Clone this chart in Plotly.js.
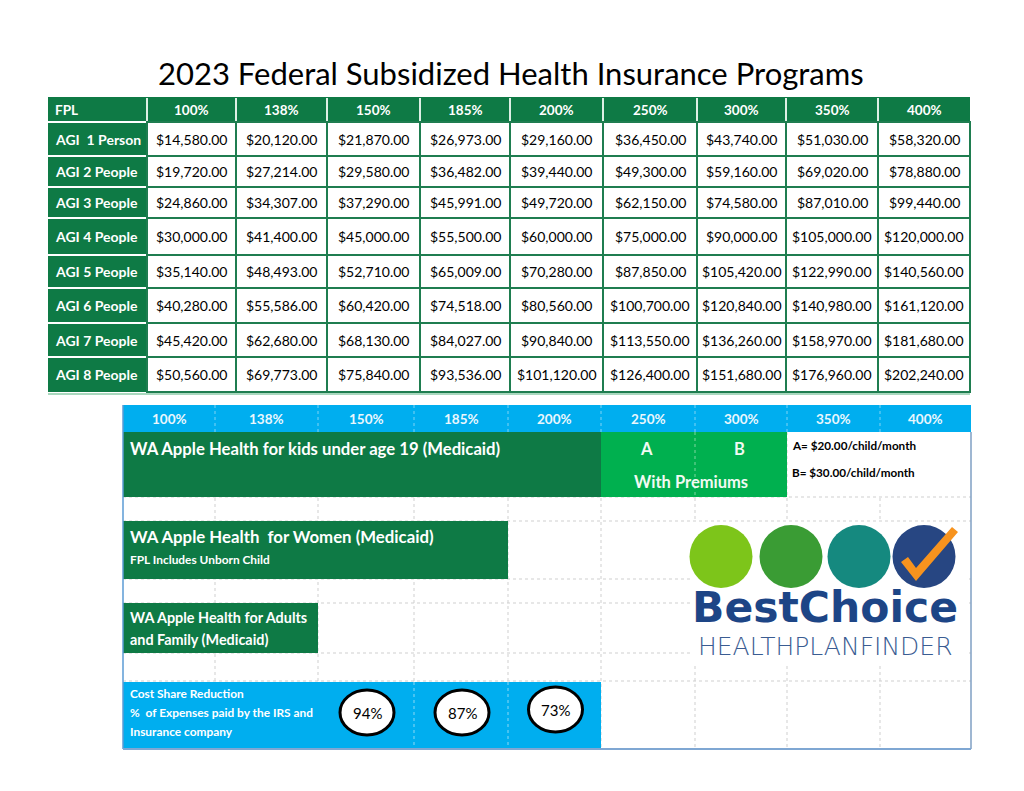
<!DOCTYPE html>
<html>
<head>
<meta charset="utf-8">
<script src="https://cdn.plot.ly/plotly-3.0.1.min.js"></script>
<style>
  html, body { margin: 0; padding: 0; background: #fff; }
  #chart { width: 1024px; height: 791px; }
</style>
</head>
<body>
<div id="chart"></div>
<script>
// ---- data ----
const chartTitle = '2023 Federal Subsidized Health Insurance Programs';
const fplLevels = ['100%', '138%', '150%', '185%', '200%', '250%', '300%', '350%', '400%'];
const householdLabels = ['AGI  1 Person', 'AGI 2 People', 'AGI 3 People', 'AGI 4 People',
                         'AGI 5 People', 'AGI 6 People', 'AGI 7 People', 'AGI 8 People'];
const agi1 = [14580, 20120, 21870, 26973, 29160, 36450, 43740, 51030, 58320];
const agi2 = [19720, 27214, 29580, 36482, 39440, 49300, 59160, 69020, 78880];
const agi3 = [24860, 34307, 37290, 45991, 49720, 62150, 74580, 87010, 99440];
const agi4 = [30000, 41400, 45000, 55500, 60000, 75000, 90000, 105000, 120000];
const agi5 = [35140, 48493, 52710, 65009, 70280, 87850, 105420, 122990, 140560];
const agi6 = [40280, 55586, 60420, 74518, 80560, 100700, 120840, 140980, 161120];
const agi7 = [45420, 62680, 68130, 84027, 90840, 113550, 136260, 158970, 181680];
const agi8 = [50560, 69773, 75840, 93536, 101120, 126400, 151680, 176960, 202240];
const agiRows = [agi1, agi2, agi3, agi4, agi5, agi6, agi7, agi8];

// programs: which FPL columns they cover (start col, end col exclusive), which band
const programNames = ['kids Medicaid', 'kids premiums', 'women', 'adults', 'cost share'];
const programStartCol = [0, 5, 0, 0, 0];
const programEndCol = [5, 7, 4, 2, 5];
const programBand = [0, 0, 1, 2, 3];
const premiumTiers = ['A', 'B'];
const premiumTierCols = [5, 6];
const premiumNotes = ['A= $20.00/child/month', 'B= $30.00/child/month'];
const csrLevels = ['94%', '87%', '73%'];
const csrCols = [2, 3, 4];

// ---- layout (pixel grid of the page) ----
const TOP_COLS = [48, 147, 236, 327, 420, 510, 603, 697, 786, 878, 970];
const TOP_ROWS = [97, 122, 156, 187, 218, 255, 288, 323, 357, 392];
const LOW_COLS = [123, 215, 318, 414, 508, 601, 695, 787, 880, 971];
const LOW_HEAD = [405, 432];
const LOW_BANDS = [[432, 497], [521, 579], [603, 653], [682, 749]];
const LOW_GRID_Y = [497, 521, 579, 603, 653, 681];

const GREEN = '#0E7A45';
const LIGHT_GREEN = '#00B04F';
const BLUE = '#00AEEF';
const NAVY = '#1D4586';
const FONT = 'Lato, "Open Sans", sans-serif';

const money = v => '$' + v.toLocaleString('en-US', { minimumFractionDigits: 2, maximumFractionDigits: 2 });

const shapes = [];
const annotations = [];

function rect(x0, y0, x1, y1, fill, lineColor, lineWidth, layer) {
    shapes.push({
        type: 'rect', xref: 'x', yref: 'y', x0, y0, x1, y1,
        fillcolor: fill, layer: layer || 'below',
        line: { color: lineColor || fill, width: lineWidth === undefined ? 0 : lineWidth }
    });
}
function seg(x0, y0, x1, y1, color, width, dash, layer) {
    shapes.push({
        type: 'line', xref: 'x', yref: 'y', x0, y0, x1, y1, layer: layer || 'below',
        line: { color, width, dash: dash || 'solid' }
    });
}
function label(text, x, y, opts) {
    opts = opts || {};
    annotations.push({
        text, x, y, xref: 'x', yref: 'y', showarrow: false,
        xanchor: opts.anchor || 'center', yanchor: 'middle',
        font: { family: opts.family || FONT, size: opts.size || 13, color: opts.color || '#000',
                weight: opts.weight || 'normal' }
    });
}

// title
label(chartTitle, 511, 73, { size: 31 });

// ---- upper table ----
rect(TOP_COLS[0], TOP_ROWS[0], TOP_COLS[10], TOP_ROWS[1], GREEN);
for (let c = 1; c < TOP_COLS.length - 1; c++) {
    seg(TOP_COLS[c], TOP_ROWS[0] + 1, TOP_COLS[c], TOP_ROWS[1] - 1, '#DDEFE4', 2);
}
label('FPL', TOP_COLS[0] + 5, (TOP_ROWS[0] + TOP_ROWS[1]) / 2, { anchor: 'left', color: '#fff', weight: 'bold', size: 13.5 });
fplLevels.forEach((lvl, c) => {
    label(lvl, (TOP_COLS[c + 1] + TOP_COLS[c + 2]) / 2, (TOP_ROWS[0] + TOP_ROWS[1]) / 2,
          { color: '#fff', weight: 'bold', size: 13.5 });
});
householdLabels.forEach((name, r) => {
    const y0 = TOP_ROWS[r + 1], y1 = TOP_ROWS[r + 2], ym = (y0 + y1) / 2;
    rect(TOP_COLS[0], y0, TOP_COLS[1], y1, GREEN);
    seg(TOP_COLS[0], y0, TOP_COLS[1], y0, '#FFFFFF', 2);
    label(name, TOP_COLS[0] + 5, ym, { anchor: 'left', color: '#fff', weight: 'bold', size: 14 });
    agiRows[r].forEach((v, c) => {
        rect(TOP_COLS[c + 1], y0, TOP_COLS[c + 2], y1, '#FFFFFF', '#1F7D50', 2);
        label(money(v), (TOP_COLS[c + 1] + TOP_COLS[c + 2]) / 2, ym, { size: 14 });
    });
});
seg(TOP_COLS[0], TOP_ROWS[9] + 2, TOP_COLS[10], TOP_ROWS[9] + 2, '#A9D8BE', 2);

// ---- lower eligibility grid ----
const lowTop = LOW_HEAD[1], lowBottom = LOW_BANDS[3][1];
for (let c = 1; c < LOW_COLS.length - 1; c++) {
    seg(LOW_COLS[c], lowTop, LOW_COLS[c], lowBottom, '#CFCFCF', 1, 'dot');
}
LOW_GRID_Y.forEach(y => seg(LOW_COLS[0], y, LOW_COLS[9], y, '#CFCFCF', 1, 'dot'));
// white panels behind the premium notes and the logo
rect(LOW_COLS[7] + 1, LOW_BANDS[0][0], LOW_COLS[9] - 1, LOW_BANDS[0][1] - 1, '#FFFFFF');
rect(690, 522, 968, 663, '#FFFFFF');

// header band
rect(LOW_COLS[0], LOW_HEAD[0], LOW_COLS[9], LOW_HEAD[1], BLUE);
for (let c = 1; c < LOW_COLS.length - 1; c++) {
    seg(LOW_COLS[c], LOW_HEAD[0], LOW_COLS[c], LOW_HEAD[1], '#7FD3F5', 1, 'dot');
}
fplLevels.forEach((lvl, c) => {
    label(lvl, (LOW_COLS[c] + LOW_COLS[c + 1]) / 2, (LOW_HEAD[0] + LOW_HEAD[1]) / 2,
          { color: '#EAF7FD', weight: 'bold', size: 13.5 });
});

// program bars as horizontal bars on the pixel axes
const barColors = [GREEN, LIGHT_GREEN, GREEN, GREEN, BLUE];
const bars = {
    type: 'bar', orientation: 'h',
    base: programStartCol.map(c => LOW_COLS[c]),
    x: programStartCol.map((c, i) => LOW_COLS[programEndCol[i]] - LOW_COLS[c]),
    y: programBand.map(b => (LOW_BANDS[b][0] + LOW_BANDS[b][1]) / 2),
    width: programBand.map(b => LOW_BANDS[b][1] - LOW_BANDS[b][0]),
    marker: { color: barColors, line: { width: 0 } },
    text: programNames, textposition: 'none', hoverinfo: 'skip', showlegend: false
};

// dotted dividers visible over the light green and blue bands
for (let c = programStartCol[1] + 1; c < programEndCol[1]; c++) {
    seg(LOW_COLS[c], LOW_BANDS[0][0], LOW_COLS[c], LOW_BANDS[0][1], '#7FD6A0', 1, 'dot', 'above');
}
for (let c = 3; c < programEndCol[4]; c++) {
    seg(LOW_COLS[c], LOW_BANDS[3][0], LOW_COLS[c], LOW_BANDS[3][1], '#8CD8F5', 1, 'dot', 'above');
}

// frame
seg(LOW_COLS[0], LOW_HEAD[0], LOW_COLS[0], lowBottom, '#5B9BD5', 1.5, 'solid', 'above');
seg(LOW_COLS[9], LOW_HEAD[1], LOW_COLS[9], lowBottom, '#7F9FC3', 1.5, 'solid', 'above');
seg(LOW_COLS[0], lowBottom, LOW_COLS[9], lowBottom, '#7FA7D3', 2, 'solid', 'above');

// bar texts
const tx = LOW_COLS[0] + 5;
label('WA Apple Health for kids under age 19 (Medicaid)', tx, 449, { anchor: 'left', color: '#fff', weight: 'bold', size: 16.7 });
premiumTiers.forEach((t, i) => {
    label(t, (LOW_COLS[premiumTierCols[i]] + LOW_COLS[premiumTierCols[i] + 1]) / 2 - 2, 449,
          { color: '#F1FAF3', weight: 'bold', size: 16.5 });
});
label('With Premiums', (LOW_COLS[5] + LOW_COLS[7]) / 2 - 3, 482, { color: '#F1FAF3', weight: 'bold', size: 16.5 });
premiumNotes.forEach((n, i) => label(n, LOW_COLS[7] + 3, 445 + i * 27, { anchor: 'left', weight: 'bold', size: 11.7 }));

label('WA Apple Health  for Women (Medicaid)', tx, 536, { anchor: 'left', color: '#fff', weight: 'bold', size: 16.8 });
label('FPL Includes Unborn Child', tx, 559, { anchor: 'left', color: '#fff', weight: 'bold', size: 11.9 });

label('WA Apple Health for Adults', tx, 617, { anchor: 'left', color: '#fff', weight: 'bold', size: 14.4 });
label('and Family (Medicaid)', tx, 639, { anchor: 'left', color: '#fff', weight: 'bold', size: 14.4 });

label('Cost Share Reduction', tx, 693, { anchor: 'left', color: '#fff', weight: 'bold', size: 11.9 });
label('%  of Expenses paid by the IRS and', tx, 712, { anchor: 'left', color: '#fff', weight: 'bold', size: 11.9 });
label('Insurance company', tx, 731, { anchor: 'left', color: '#fff', weight: 'bold', size: 11.9 });

csrLevels.forEach((lvl, i) => {
    const cx = (LOW_COLS[csrCols[i]] + LOW_COLS[csrCols[i] + 1]) / 2 + 1;
    const cy = i === 2 ? 709.5 : 712.5;
    shapes.push({ type: 'circle', xref: 'x', yref: 'y', x0: cx - 27, x1: cx + 27, y0: cy - 22.5, y1: cy + 22.5,
                  fillcolor: '#FFFFFF', line: { color: '#000', width: 3 }, layer: 'above' });
    label(lvl, cx, cy, { size: 15 });
});

// logo
const logoDots = [[721, '#7DC51A'], [791, '#3A9C34'], [859, '#15897F'], [924, '#274682']];
logoDots.forEach(([cx, col]) => {
    shapes.push({ type: 'circle', xref: 'x', yref: 'y', x0: cx - 31.5, x1: cx + 31.5, y0: 525, y1: 588,
                  fillcolor: col, line: { width: 0 }, layer: 'above' });
});
shapes.push({ type: 'path', xref: 'x', yref: 'y', layer: 'above',
              path: 'M 901 562 L 908 557 L 916 568 L 952 527 L 958 532 L 916 581 Z',
              fillcolor: '#F7931E', line: { width: 0 } });
label('<b>BestChoice</b>', 825, 607, { size: 42.5, color: NAVY, family: '"DejaVu Sans", "Open Sans", sans-serif' });
label('HEALTHPLANFINDER', 825, 646, { size: 25, color: '#3A5C92', weight: 200, family: '"DejaVu Sans", Lato, sans-serif' });

const layout = {
    width: 1024, height: 791,
    margin: { l: 0, r: 0, t: 0, b: 0 },
    paper_bgcolor: '#FFFFFF', plot_bgcolor: '#FFFFFF',
    xaxis: { range: [0, 1024], visible: false, fixedrange: true },
    yaxis: { range: [791, 0], visible: false, fixedrange: true },
    bargap: 0,
    shapes, annotations
};

Plotly.newPlot('chart', [bars], layout, { displayModeBar: false, staticPlot: true });
</script>
</body>
</html>
